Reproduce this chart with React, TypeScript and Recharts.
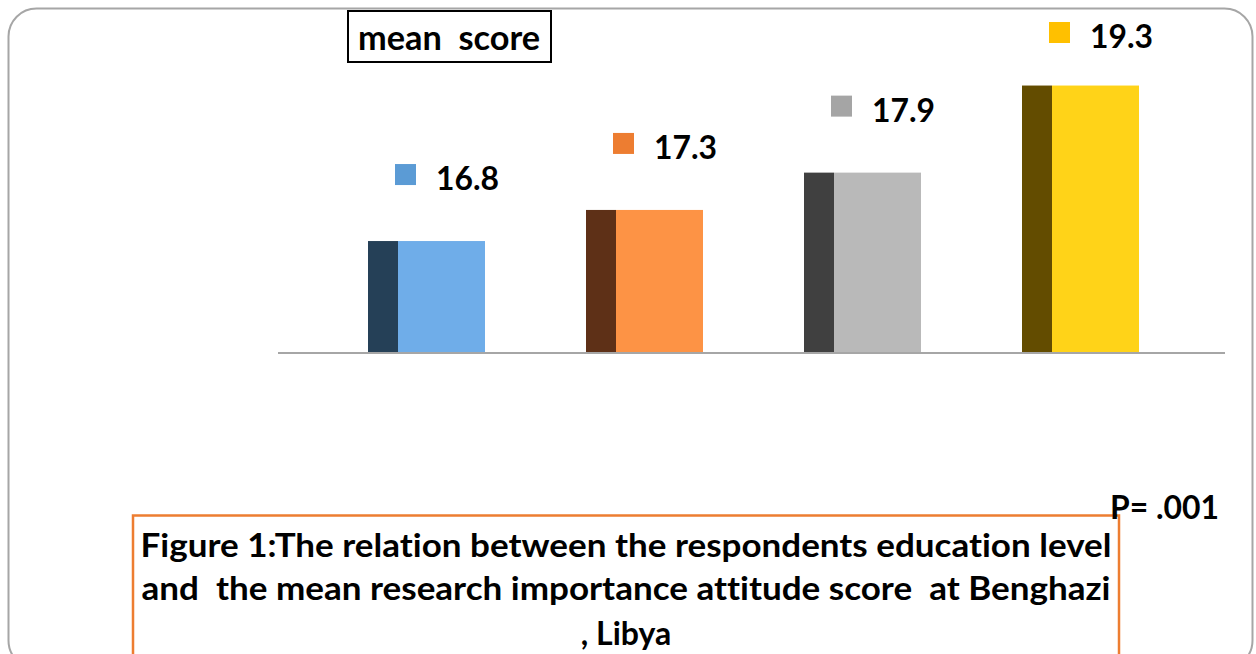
import React from "react";
import { BarChart, Bar, XAxis, YAxis, LabelList } from "recharts";

// education level groups (not labelled on the original figure)
const levels = ["Level 1", "Level 2", "Level 3", "Level 4"];
const meanScores = [16.8, 17.3, 17.9, 19.3];

const frontColors = ["#6fade9", "#fd9345", "#b9b9b9", "#ffd318"];
const sideColors = ["#254057", "#5e3017", "#404040", "#634c00"];
const keyColors = ["#5b9bd5", "#ed7d31", "#a5a5a5", "#ffc000"];

const captionLines = [
  "Figure 1:The relation between the respondents education level",
  "and  the mean research importance attitude score  at Benghazi",
  ", Libya",
];

const data = levels.map((level, i) => ({ level, score: meanScores[i] }));

const FONT = "Lato, 'Open Sans', sans-serif";
const textStyle: React.CSSProperties = { whiteSpace: "pre", fontVariantLigatures: "none" };

function BoxBar(props: any) {
  const { x, y, width, height, index } = props;
  const side = 30;
  return (
    <g>
      <rect x={x} y={y} width={side} height={height} fill={sideColors[index]} />
      <rect x={x + side} y={y} width={width - side} height={height} fill={frontColors[index]} />
    </g>
  );
}

function ScoreLabel(props: any) {
  const { x, y, value } = props;
  const i = props.index ?? meanScores.indexOf(Number(value));
  const base = Math.max(y - 51, 48);
  return (
    <g>
      <rect x={x + 27} y={base - 26} width={21} height={21} fill={keyColors[i]} />
      <text
        x={x + 68}
        y={base}
        fontFamily={FONT}
        fontWeight="bold"
        fontSize={33}
        fill="#000"
        textLength={63}
        lengthAdjust="spacingAndGlyphs"
      >
        {value}
      </text>
    </g>
  );
}

export default function App() {
  return (
    <div style={{ position: "absolute", left: 0, top: 0, width: 1256, height: 654, background: "#fff", overflow: "hidden" }}>
      <svg width={1256} height={654} style={{ position: "absolute", left: 0, top: 0 }}>
        <rect x={8.5} y={8.5} width={1244} height={660} rx={28} fill="none" stroke="#a6a6a6" strokeWidth={2} />
      </svg>
      <div style={{ position: "absolute", left: 0, top: 0 }}>
        <BarChart
          width={1256}
          height={654}
          data={data}
          margin={{ top: 42, right: 31, left: 278, bottom: 271 }}
          barSize={117}
        >
          <XAxis
            dataKey="level"
            tick={false}
            tickLine={false}
            height={30}
            padding={{ left: 39, right: 36 }}
            axisLine={{ stroke: "#a6a6a6", strokeWidth: 2 }}
          />
          <YAxis hide domain={[15, 20]} allowDataOverflow />
          <Bar dataKey="score" shape={<BoxBar />} isAnimationActive={false}>
            <LabelList dataKey="score" content={<ScoreLabel />} />
          </Bar>
        </BarChart>
      </div>
      <svg width={1256} height={654} style={{ position: "absolute", left: 0, top: 0, pointerEvents: "none" }}>
        <rect x={348} y={11} width={203} height={51} fill="#fff" stroke="#000" strokeWidth={2} />
        <text
          x={358}
          y={50}
          fontFamily={FONT}
          fontWeight="bold"
          fontSize={34}
          fill="#000"
          textLength={182}
          lengthAdjust="spacingAndGlyphs"
          style={textStyle}
        >
          mean  score
        </text>
        <rect x={133} y={515.5} width={986} height={160} fill="none" stroke="#ed7d31" strokeWidth={2.5} />
        <text
          x={626}
          y={557}
          textAnchor="middle"
          fontFamily={FONT}
          fontWeight="bold"
          fontSize={32}
          fill="#000"
          textLength={971}
          lengthAdjust="spacingAndGlyphs"
          style={textStyle}
        >
          {captionLines[0]}
        </text>
        <text
          x={626}
          y={600}
          textAnchor="middle"
          fontFamily={FONT}
          fontWeight="bold"
          fontSize={32}
          fill="#000"
          textLength={969}
          lengthAdjust="spacingAndGlyphs"
          style={textStyle}
        >
          {captionLines[1]}
        </text>
        <text
          x={626}
          y={645}
          textAnchor="middle"
          fontFamily={FONT}
          fontWeight="bold"
          fontSize={32}
          fill="#000"
          style={textStyle}
        >
          {captionLines[2]}
        </text>
        <text
          x={1110}
          y={519}
          fontFamily={FONT}
          fontWeight="bold"
          fontSize={32}
          fill="#000"
          textLength={109}
          lengthAdjust="spacingAndGlyphs"
        >
          P= .001
        </text>
      </svg>
    </div>
  );
}
